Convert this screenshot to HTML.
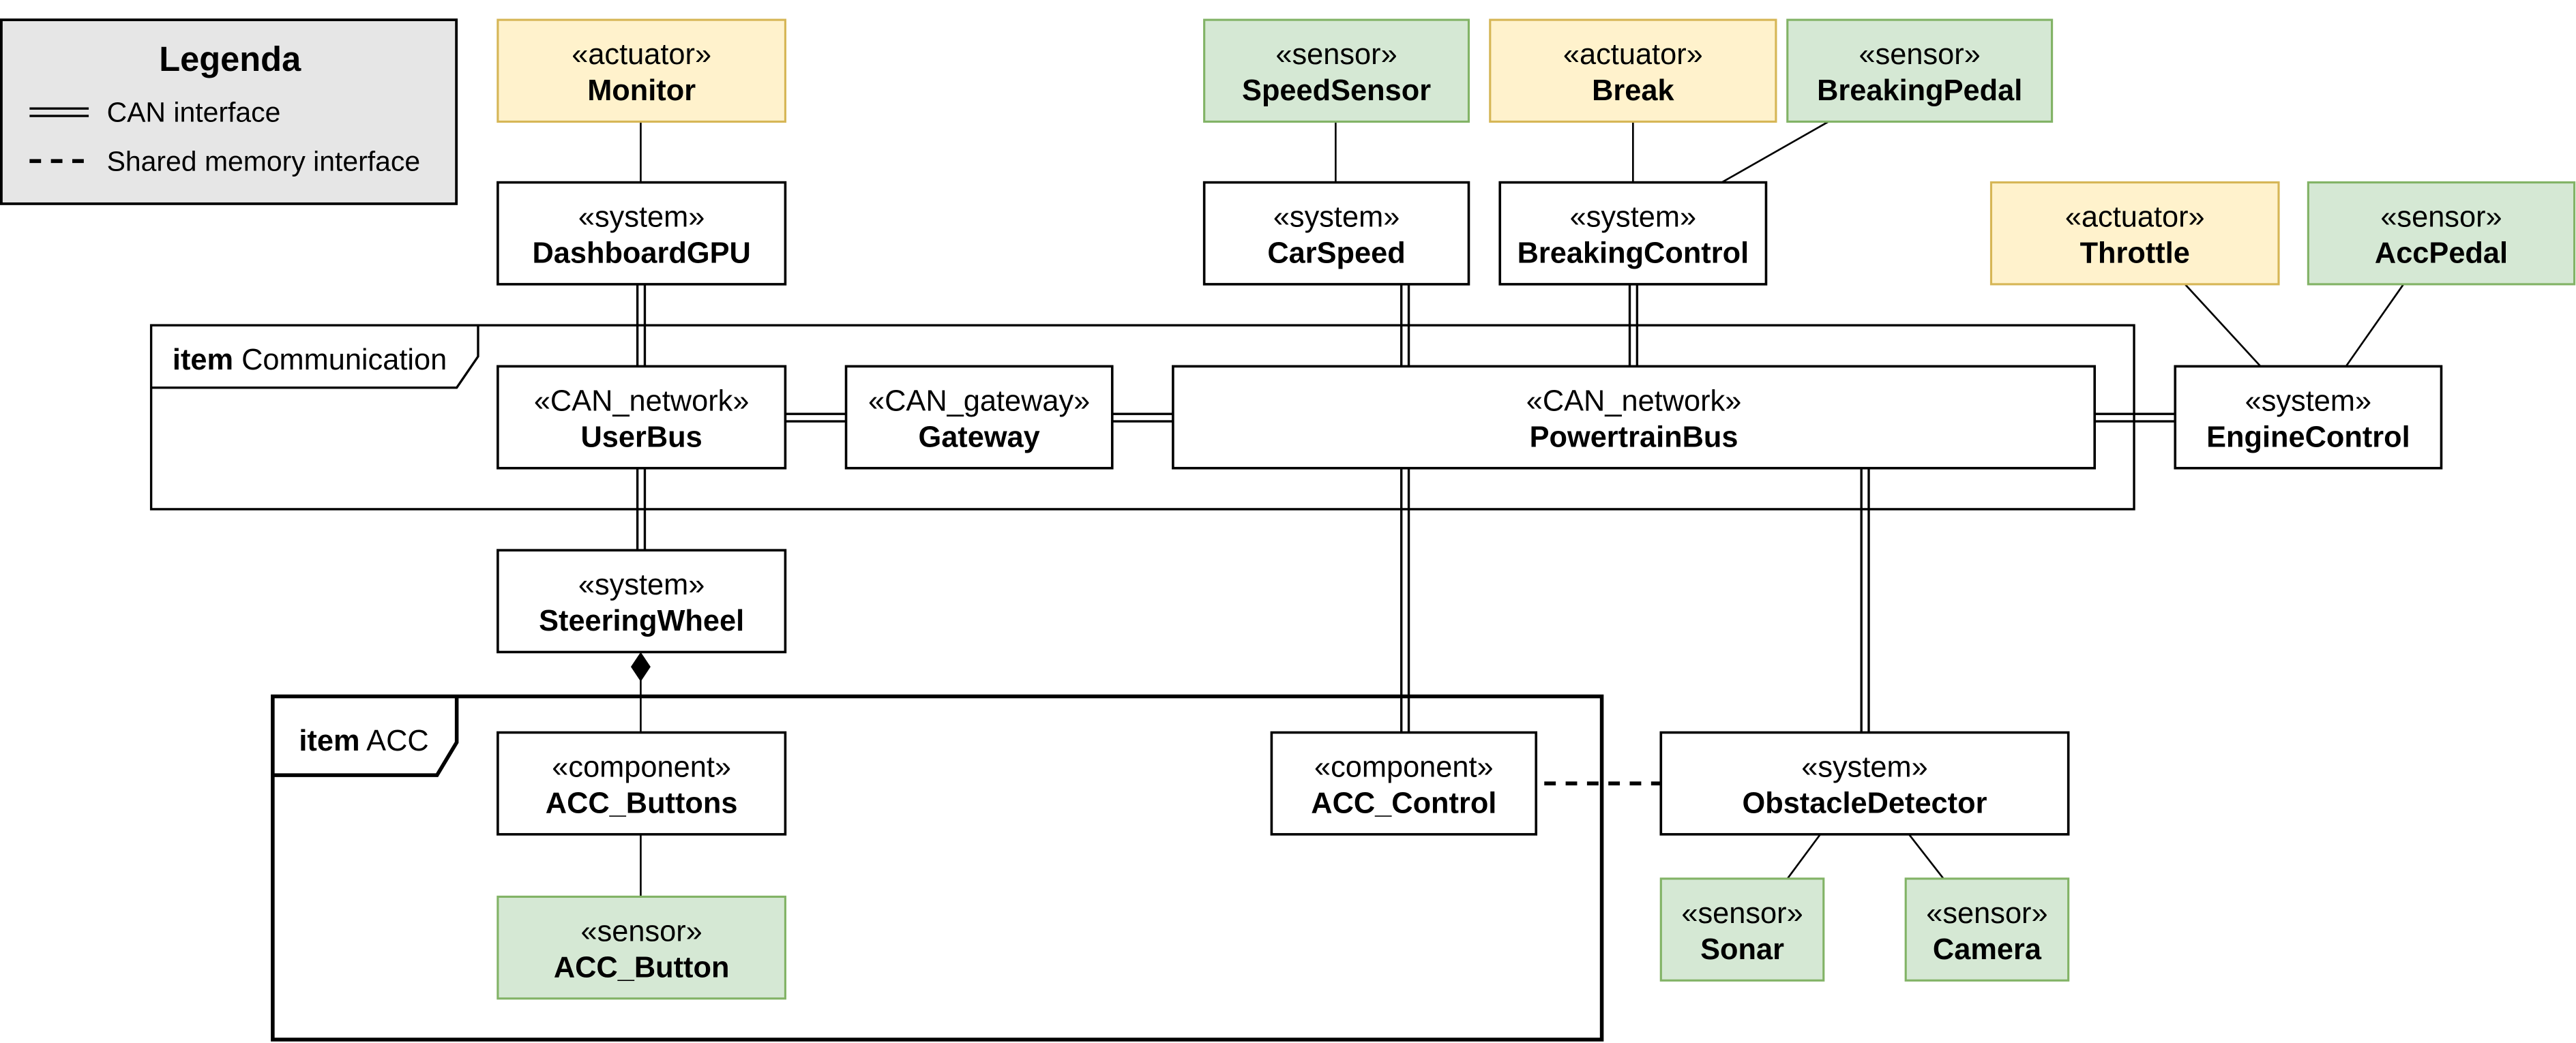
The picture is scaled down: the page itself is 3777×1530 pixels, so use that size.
<!DOCTYPE html>
<html><head><meta charset="utf-8"><style>html,body{margin:0;padding:0;background:#fff}svg{display:block}</style></head>
<body>
<svg xmlns="http://www.w3.org/2000/svg" width="3777" height="1530" viewBox="0 0 1568 635" font-family="Liberation Sans, Arial, sans-serif">
<rect width="1568" height="635" fill="#fff"/>
<g stroke="#000" fill="none">
<g stroke-width="1.1">
<line x1="390" y1="74" x2="390" y2="111"/>
<line x1="813" y1="74" x2="813" y2="111"/>
<line x1="994" y1="74" x2="994" y2="111"/>
<line x1="1113" y1="74" x2="1048" y2="111"/>
<line x1="1330" y1="173" x2="1376" y2="223"/>
<line x1="1463" y1="173" x2="1428" y2="223"/>
<line x1="1108" y1="508" x2="1088" y2="535"/>
<line x1="1162" y1="508" x2="1183" y2="535"/>
<line x1="390" y1="414" x2="390" y2="446"/>
<line x1="390" y1="508" x2="390" y2="546"/>
</g>
<g stroke-width="1.4">
<line x1="388" y1="173" x2="388" y2="223"/><line x1="392.5" y1="173" x2="392.5" y2="223"/>
<line x1="388" y1="285" x2="388" y2="335"/><line x1="392.5" y1="285" x2="392.5" y2="335"/>
<line x1="853" y1="173" x2="853" y2="223"/><line x1="857.5" y1="173" x2="857.5" y2="223"/>
<line x1="992" y1="173" x2="992" y2="223"/><line x1="996.5" y1="173" x2="996.5" y2="223"/>
<line x1="853" y1="285" x2="853" y2="446"/><line x1="857.5" y1="285" x2="857.5" y2="446"/>
<line x1="1133" y1="285" x2="1133" y2="446"/><line x1="1137.5" y1="285" x2="1137.5" y2="446"/>
<line x1="478" y1="252" x2="515" y2="252"/><line x1="478" y1="256.5" x2="515" y2="256.5"/>
<line x1="677" y1="252" x2="714" y2="252"/><line x1="677" y1="256.5" x2="714" y2="256.5"/>
<line x1="1275" y1="252" x2="1324" y2="252"/><line x1="1275" y1="256.5" x2="1324" y2="256.5"/>
</g>
<line x1="940" y1="477" x2="1011" y2="477" stroke-width="2.4" stroke-dasharray="7,6"/>
</g>
<g stroke="#000" fill="none">
<rect x="92" y="198" width="1207" height="112" stroke-width="1.4"/>
<path d="M92 236 H278 L291 217 V198" stroke-width="1.4"/>
<rect x="166" y="424" width="809" height="209" stroke-width="2.3"/>
<path d="M166 472 H266 L278 452 V424" stroke-width="2.3"/>
</g>
<polygon points="390,397 396,406 390,415 384,406" fill="#000"/>
<rect x="0.8" y="12" width="277" height="112" fill="#e6e6e6" stroke="#000" stroke-width="1.6"/>
<text x="140" y="43" text-anchor="middle" font-weight="bold" font-size="21">Legenda</text>
<line x1="18" y1="66" x2="54" y2="66" stroke="#000" stroke-width="1.4"/>
<line x1="18" y1="70.5" x2="54" y2="70.5" stroke="#000" stroke-width="1.4"/>
<line x1="18" y1="98" x2="56" y2="98" stroke="#000" stroke-width="2.4" stroke-dasharray="7,6"/>
<g font-size="17"><text x="65" y="74">CAN interface</text><text x="65" y="104">Shared memory interface</text></g>
<text x="105" y="225" font-size="18"><tspan font-weight="bold">item</tspan> Communication</text>
<text x="182" y="457" font-size="18"><tspan font-weight="bold">item</tspan> ACC</text>
<g font-size="18" text-anchor="middle">
<g stroke-width="1.3">
<rect x="303" y="12" width="175" height="62" fill="#fff2cc" stroke="#d6b656"/>
<rect x="733" y="12" width="161" height="62" fill="#d5e8d4" stroke="#82b366"/>
<rect x="907" y="12" width="174" height="62" fill="#fff2cc" stroke="#d6b656"/>
<rect x="1088" y="12" width="161" height="62" fill="#d5e8d4" stroke="#82b366"/>
<rect x="1212" y="111" width="175" height="62" fill="#fff2cc" stroke="#d6b656"/>
<rect x="1405" y="111" width="162" height="62" fill="#d5e8d4" stroke="#82b366"/>
<rect x="303" y="546" width="175" height="62" fill="#d5e8d4" stroke="#82b366"/>
<rect x="1011" y="535" width="99" height="62" fill="#d5e8d4" stroke="#82b366"/>
<rect x="1160" y="535" width="99" height="62" fill="#d5e8d4" stroke="#82b366"/>
</g>
<g stroke="#000" stroke-width="1.5" fill="#fff">
<rect x="303" y="111" width="175" height="62"/>
<rect x="733" y="111" width="161" height="62"/>
<rect x="913" y="111" width="162" height="62"/>
<rect x="303" y="223" width="175" height="62"/>
<rect x="515" y="223" width="162" height="62"/>
<rect x="714" y="223" width="561" height="62"/>
<rect x="1324" y="223" width="162" height="62"/>
<rect x="303" y="335" width="175" height="62"/>
<rect x="303" y="446" width="175" height="62"/>
<rect x="774" y="446" width="161" height="62"/>
<rect x="1011" y="446" width="248" height="62"/>
</g>
<g>
<text x="390.5" y="39">«actuator»</text><text x="390.5" y="61" font-weight="bold">Monitor</text>
<text x="813.5" y="39">«sensor»</text><text x="813.5" y="61" font-weight="bold">SpeedSensor</text>
<text x="994" y="39">«actuator»</text><text x="994" y="61" font-weight="bold">Break</text>
<text x="1168.5" y="39">«sensor»</text><text x="1168.5" y="61" font-weight="bold">BreakingPedal</text>
<text x="390.5" y="138">«system»</text><text x="390.5" y="160" font-weight="bold">DashboardGPU</text>
<text x="813.5" y="138">«system»</text><text x="813.5" y="160" font-weight="bold">CarSpeed</text>
<text x="994" y="138">«system»</text><text x="994" y="160" font-weight="bold">BreakingControl</text>
<text x="1299.5" y="138">«actuator»</text><text x="1299.5" y="160" font-weight="bold">Throttle</text>
<text x="1486" y="138">«sensor»</text><text x="1486" y="160" font-weight="bold">AccPedal</text>
<text x="390.5" y="250">«CAN_network»</text><text x="390.5" y="272" font-weight="bold">UserBus</text>
<text x="596" y="250">«CAN_gateway»</text><text x="596" y="272" font-weight="bold">Gateway</text>
<text x="994.5" y="250">«CAN_network»</text><text x="994.5" y="272" font-weight="bold">PowertrainBus</text>
<text x="1405" y="250">«system»</text><text x="1405" y="272" font-weight="bold">EngineControl</text>
<text x="390.5" y="362">«system»</text><text x="390.5" y="384" font-weight="bold">SteeringWheel</text>
<text x="390.5" y="473">«component»</text><text x="390.5" y="495" font-weight="bold">ACC_Buttons</text>
<text x="854.5" y="473">«component»</text><text x="854.5" y="495" font-weight="bold">ACC_Control</text>
<text x="1135" y="473">«system»</text><text x="1135" y="495" font-weight="bold">ObstacleDetector</text>
<text x="390.5" y="573">«sensor»</text><text x="390.5" y="595" font-weight="bold">ACC_Button</text>
<text x="1060.5" y="562">«sensor»</text><text x="1060.5" y="584" font-weight="bold">Sonar</text>
<text x="1209.5" y="562">«sensor»</text><text x="1209.5" y="584" font-weight="bold">Camera</text>
</g>
</g>
</svg>
</body></html>
